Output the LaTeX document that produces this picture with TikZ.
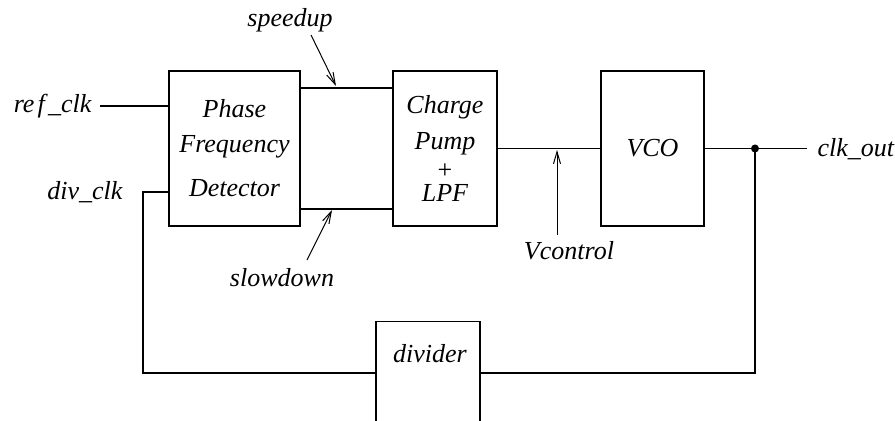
\documentclass[tikz,border=0pt]{standalone}
\usepackage{fontspec}
\setmainfont{Liberation Serif}
\usetikzlibrary{arrows.meta,calc}

\tikzset{
  blk/.style={draw, rectangle, inner sep=0pt, align=center},
  wire/.style={line width=0.6pt},
  pointer/.style={line width=0.5pt, -{Straight Barb[length=6pt,width=3.5pt]}},
  lbl/.style={inner sep=0pt, anchor=base}
}

\begin{document}
\begin{tikzpicture}[x=0.5pt, y=0.5pt, line width=0.6pt,
    font=\fontsize{13}{15.6}\selectfont\itshape]
  \useasboundingbox (0,0) rectangle (895,421);
  \clip (0,0) rectangle (895,421);

  % blocks
  \node[blk, minimum width=65.5pt, minimum height=77.5pt] (pfd) at (234.5,272.5)
    {Phase\\[1.9pt]Frequency\\[6.4pt]Detector};
  \node[blk, minimum width=52pt, minimum height=77.5pt] (cp) at (445,272.5)
    {Charge\\[2.4pt]Pump\hspace*{15.5pt}\\[-1.4pt]{\upshape +}\\[-3.9pt]LPF};
  \node[blk, minimum width=51.5pt, minimum height=77.5pt] (vco) at (652.5,272.5) {VCO};
  \node[blk, minimum width=52pt, minimum height=80pt, anchor=north] (div) at (428,100) {};
  \node[lbl] (divtxt) at (430,58) {divider};

  % free ends
  \coordinate (refin) at (100,315);
  \coordinate (out) at (807,272.5);
  \coordinate (tap) at (755,272.5);
  \coordinate (lpR) at (755,48);
  \coordinate (lpL) at (143,48);
  \coordinate (dvin) at (169,229);

  % wires
  \draw[wire] (refin) -- (refin -| pfd.west);
  \draw[wire] (pfd.east |- 0,333) -- (cp.west |- 0,333);
  \draw[wire] (pfd.east |- 0,212) -- (cp.west |- 0,212);
  \draw[wire] (cp.east) -- (vco.west);
  \draw[wire] (vco.east) -- (out);
  \fill (tap) circle (2pt);
  \draw[wire] (tap) -- (lpR) -- (div.east |- lpR);
  \draw[wire] (div.west |- lpL) -- (lpL) -- (dvin -| lpL) -- (dvin);

  % labels
  \node[lbl, anchor=base east] (ref) at (92,308) {re\kern1.6pt f\kern1.6pt\_clk};
  \node[lbl, anchor=base east] (dclk) at (123,221) {div\_clk};
  \node[lbl, anchor=base west] (cout) at (817,264) {clk\_out};
  \node[lbl] (spd) at (290,394) {speedup};
  \node[lbl] (slw) at (282,134) {slowdown};
  \node[lbl] (vctl) at (569,161) {Vcontrol};

  % pointers
  \coordinate (spdtip) at (336,335);
  \coordinate (slwtip) at (332,211);
  \coordinate (vtip) at (557,271);
  \draw[pointer] (311,386) -- (spdtip);
  \draw[pointer] (307,161) -- (slwtip);
  \draw[pointer] (557,186) -- (vtip);
\end{tikzpicture}
\end{document}
